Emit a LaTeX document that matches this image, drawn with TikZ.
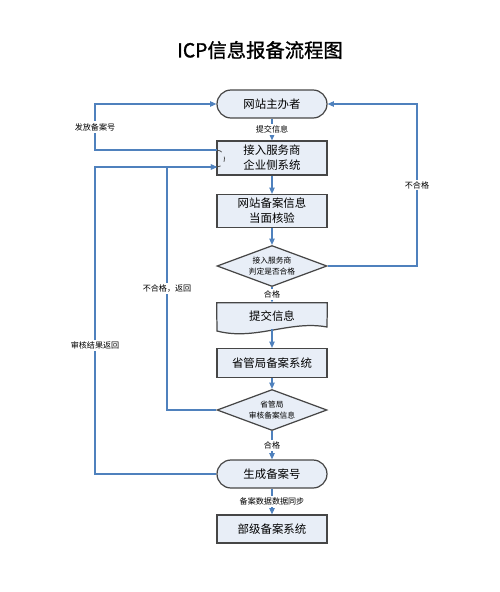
\documentclass[tikz,border=0pt]{standalone}
\usepackage{fontspec}
\setmainfont{Noto Sans CJK SC}
\newfontfamily\titlefont{Noto Sans CJK SC}[FakeBold=1.2]
\usepackage{tikz}
\usetikzlibrary{shapes.geometric}
\usetikzlibrary{arrows.meta,backgrounds}
\definecolor{linkblue}{RGB}{79,129,189}
\definecolor{boxfill}{RGB}{232,238,247}
\definecolor{boxline}{RGB}{70,70,70}

\begin{document}
\begin{tikzpicture}[x=0.02cm,y=-0.02cm,
  box/.style={draw=boxline,fill=boxfill,line width=0.7pt,minimum width=2.2cm,
    inner sep=1pt,align=center,font=\fontsize{6.5}{8.5}\selectfont},
  stadium/.style={box,rounded corners=0.28cm,minimum height=0.56cm},
  decision/.style={diamond,draw=boxline,fill=boxfill,line width=0.7pt,aspect=2.6,
    inner sep=0pt,minimum width=2.2cm,minimum height=0.82cm,align=center,
    font=\fontsize{4.4}{6.2}\selectfont},
  docbox/.style={minimum width=2.2cm,minimum height=0.52cm,inner sep=1pt,
    font=\fontsize{6.5}{8.5}\selectfont},
  link/.style={draw=linkblue,line width=0.6pt,-{Triangle[length=3.5pt,width=3pt]}},
  lbl/.style={fill=white,inner sep=1pt,font=\fontsize{4.6}{5.5}\selectfont}]
\useasboundingbox (0,0) rectangle (500,592);
\node[font=\titlefont\fontsize{11}{13}\selectfont] (title) at (260,50) {ICP信息报备流程图};
\node[stadium] (owner) at (272,104) {网站主办者};
\node[box,minimum height=0.68cm] (isp) at (272,158) {接入服务商\\企业侧系统};
\node[box,minimum height=0.66cm] (check) at (272,211) {网站备案信息\\当面核验};
\node[decision] (judge) at (272,266) {接入服务商\\判定是否合格};
\node[docbox] (submit) at (272,316) {提交信息};
\node[box,minimum height=0.58cm] (prov) at (272,363) {省管局备案系统};
\node[decision] (audit) at (272,410) {省管局\\审核备案信息};
\node[stadium] (gen) at (272,474) {生成备案号};
\node[box,minimum height=0.56cm] (mii) at (272,529) {部级备案系统};
\begin{pgfonlayer}{background}
\filldraw[draw=boxline,fill=boxfill,line width=0.7pt] (submit.north west) -- (submit.north east)
  -- (327,327) .. controls (290,320) and (255,341) .. (217,331) -- cycle;
\end{pgfonlayer}
% main line
\draw[link] (owner) -- node[lbl]{提交信息} (isp);
\draw[link] (isp) -- (check);
\draw[link] (check) -- (judge);
\draw[link] (judge) -- node[lbl]{合格} (submit);
\draw[link] (submit) -- (prov);
\draw[link] (prov) -- (audit);
\draw[link] (audit) -- node[lbl]{合格} (gen);
\draw[link] (gen) -- node[lbl]{备案数据数据同步} (mii);
% loops
\coordinate (rc) at (417,104);
\coordinate (lt) at (95,104);
\coordinate (ispout) at (217,150);
\coordinate (ispin) at (217,167);
\coordinate (back1) at (167,167);
\coordinate (back2) at (95,167);
\draw[link] (judge.east) -| node[pos=0.75,lbl]{不合格} (rc) -- (owner.east);
\draw[link] (ispout) -| node[pos=0.75,lbl]{发放备案号} (lt) -- (owner.west);
\draw[link] (audit.west) -| node[pos=0.75,lbl]{不合格，返回} (back1) -- (ispin);
\draw[link] (gen.west) -| node[pos=0.71,lbl]{审核结果返回} (back2) -- (ispin);
\draw[dashed,boxline,line width=0.4pt] (ispout) .. controls (227,151) and (227,166) .. (ispin);
\end{tikzpicture}
\end{document}
